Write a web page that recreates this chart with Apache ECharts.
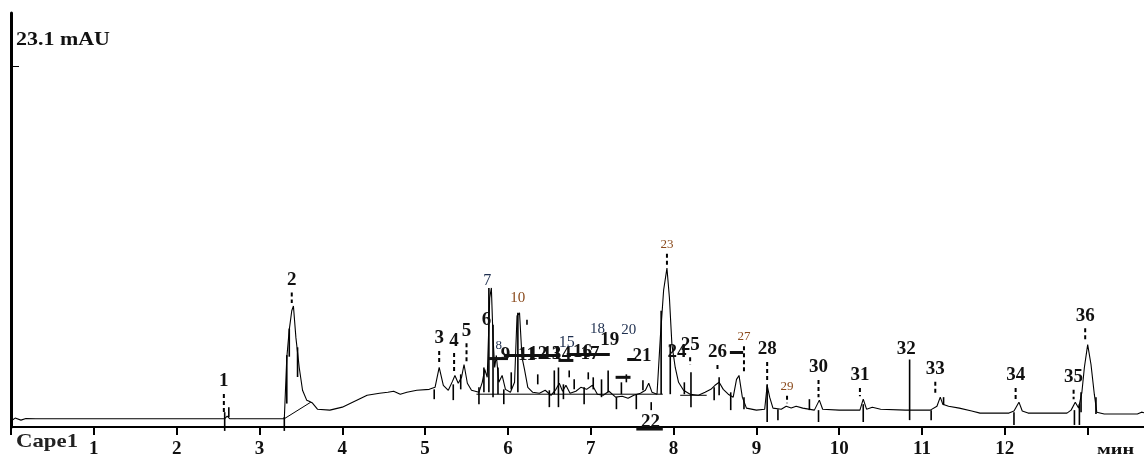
<!DOCTYPE html>
<html>
<head>
<meta charset="utf-8">
<script src="https://cdn.jsdelivr.net/npm/echarts@6/dist/echarts.min.js"></script>
<style>
  html, body { margin: 0; padding: 0; background: #fff; }
  #chart { width: 1144px; height: 459px; }
</style>
</head>
<body>
<div id="chart"></div>
<script>
// chromatogram trace, minutes / mAU
const traceTime = [0.00, 0.05, 0.12, 0.18, 0.30, 0.84, 0.86, 0.88, 2.58, 2.61, 2.64, 3.30, 3.33, 3.36, 3.39, 3.41, 3.44, 3.48, 3.52, 3.57,
  3.60, 3.64, 3.70, 3.85, 4.00, 4.15, 4.30, 4.45, 4.55, 4.62, 4.70, 4.78, 4.90, 5.05, 5.12, 5.17, 5.22, 5.28, 5.33, 5.36,
  5.40, 5.44, 5.47, 5.51, 5.56, 5.65, 5.69, 5.72, 5.75, 5.78, 5.80, 5.82, 5.84, 5.86, 5.89, 5.93, 5.97, 6.03, 6.08, 6.11,
  6.14, 6.17, 6.20, 6.24, 6.30, 6.38, 6.45, 6.52, 6.58, 6.62, 6.66, 6.70, 6.75, 6.82, 6.88, 6.95, 7.02, 7.08, 7.15, 7.22,
  7.30, 7.38, 7.45, 7.52, 7.60, 7.66, 7.70, 7.74, 7.80, 7.84, 7.88, 7.92, 7.95, 7.98, 8.02, 8.06, 8.12, 8.20, 8.30, 8.38,
  8.45, 8.50, 8.55, 8.60, 8.66, 8.72, 8.76, 8.79, 8.83, 8.88, 9.00, 9.10, 9.13, 9.16, 9.20, 9.30, 9.36, 9.42, 9.48, 9.56,
  9.70, 9.76, 9.80, 10.00, 10.25, 10.29, 10.33, 10.40, 10.50, 10.80, 11.10, 11.18, 11.22, 11.25, 11.32, 11.45, 11.60, 11.70, 12.05, 12.11,
  12.17, 12.21, 12.28, 12.75, 12.80, 12.85, 12.89, 12.93, 12.96, 13.00, 13.04, 13.08, 13.11, 13.20, 13.60, 13.65, 13.70];
const traceSignal = [0.38, 0.57, 0.44, 0.54, 0.53, 0.53, 0.62, 0.53, 0.53, 0.70, 0.53, 0.53, 4.45, 6.23, 7.44, 7.75, 5.72, 3.81, 2.35, 1.72,
  1.65, 1.53, 1.14, 1.08, 1.27, 1.65, 2.03, 2.16, 2.22, 2.29, 2.10, 2.22, 2.35, 2.41, 2.54, 3.81, 2.67, 2.35, 2.92, 3.30,
  2.80, 3.18, 4.00, 2.80, 2.35, 2.22, 2.86, 3.69, 3.18, 8.26, 8.90, 5.72, 3.81, 4.58, 2.86, 3.30, 2.41, 2.22, 2.86, 7.12,
  7.31, 4.45, 3.69, 2.54, 2.22, 2.16, 2.35, 2.03, 2.41, 2.80, 2.29, 2.67, 2.16, 2.29, 2.54, 2.41, 2.67, 2.10, 2.03, 2.29,
  1.91, 1.97, 1.84, 2.03, 2.16, 2.35, 2.80, 2.22, 2.10, 5.72, 8.77, 10.17, 8.26, 5.27, 3.81, 2.86, 2.35, 2.10, 2.03, 2.22,
  2.41, 2.67, 2.86, 2.41, 2.10, 1.91, 3.05, 3.30, 1.91, 1.21, 1.08, 1.14, 2.67, 1.91, 1.21, 1.14, 1.33, 1.21, 1.33, 1.21,
  1.08, 1.72, 1.14, 1.08, 1.08, 1.78, 1.14, 1.27, 1.14, 1.08, 1.08, 1.33, 1.91, 1.46, 1.33, 1.21, 1.02, 0.89, 0.89, 1.02,
  1.59, 1.02, 0.89, 0.89, 1.08, 1.59, 1.21, 2.22, 3.81, 5.27, 4.00, 2.10, 0.95, 0.83, 0.83, 0.95, 0.89];

// peak annotations
const peakNo = [1, 2, 3, 4, 5, 6, 7, 8, 9, 10, 11, 12, 13, 14, 15, 16, 17, 18, 19, 20, 21, 22, 23, 24, 25, 26, 27, 28, 29, 30, 31, 32, 33, 34, 35, 36];
const peakTime = [2.57, 3.39, 5.17, 5.35, 5.50, 5.74, 5.75, 5.89, 5.97, 6.12, 6.23, 6.36, 6.53, 6.65, 6.71, 6.90, 6.99, 7.08, 7.23, 7.46,
  7.62, 7.72, 7.92, 8.04, 8.20, 8.53, 8.85, 9.13, 9.37, 9.75, 10.25, 10.81, 11.16, 12.13, 12.83, 12.97];
const peakApex = [0.76, 7.75, 3.81, 3.30, 4.00, null, null, null, null, null, null, null, null, null, null, null, null, null, null, null,
  null, null, 10.17, null, 3.81, 3.37, 3.30, 2.67, 1.33, 1.72, 1.78, null, 1.91, 1.59, 1.59, 5.27];

// integration marks: time, top, bottom (mAU)
const markTime = [2.58, 2.63, 3.30, 3.33, 3.36, 3.46, 5.11, 5.34, 5.43, 5.65, 5.71, 5.77, 5.82, 5.88, 5.95, 6.04, 6.12, 6.23, 6.36, 6.50,
  6.56, 6.61, 6.67, 6.74, 6.80, 6.92, 6.97, 7.03, 7.13, 7.21, 7.31, 7.37, 7.43, 7.55, 7.63, 7.73, 7.85, 7.96, 8.13, 8.21,
  8.49, 8.55, 8.69, 8.85, 9.13, 9.26, 9.64, 9.75, 10.29, 10.85, 11.11, 11.26, 12.11, 12.84, 12.90, 12.92, 13.10];
const markTop = [0.95, 1.27, 0.64, 4.60, 6.30, 5.10, 2.41, 2.73, 3.37, 2.54, 3.81, 8.90, 6.55, 3.81, 2.41, 3.50, 7.31, 6.86, 3.37, 2.35,
  3.62, 3.81, 2.73, 3.62, 3.05, 2.54, 3.50, 3.18, 3.05, 3.62, 1.91, 2.86, 3.37, 2.10, 2.99, 1.59, 7.44, 5.27, 2.86, 3.50,
  2.54, 3.18, 2.22, 1.91, 2.73, 1.14, 1.78, 1.08, 1.46, 4.32, 1.08, 1.91, 0.95, 1.08, 1.46, 2.22, 1.91];
const markBottom = [-0.25, 0.64, -0.25, 1.50, 4.50, 3.20, 1.78, 1.72, 2.41, 1.46, 2.22, 2.22, 1.91, 2.10, 1.46, 2.41, 2.22, 6.55, 2.73, 1.27,
  2.10, 1.27, 1.78, 3.18, 2.41, 1.46, 3.05, 2.41, 1.91, 2.22, 1.14, 2.10, 2.86, 1.14, 2.35, 1.08, 2.10, 2.10, 2.10, 1.27,
  1.72, 2.03, 1.08, 1.14, 0.32, 0.44, 1.08, 0.32, 0.32, 0.44, 0.44, 1.40, 0.13, 0.13, 0.13, 0.95, 0.83];

// baselines drawn by the integrator
const baseT1 = [3.30, 5.62, 8.08];
const baseV1 = [0.53, 2.10, 2.03];
const baseT2 = [3.62, 7.87, 8.40];
const baseV2 = [1.59, 2.10, 2.03];

// heavy leader bars under crowded labels
const barT1 = [6.61, 6.71, 7.44, 7.55, 5.77, 5.95, 7.30, 8.68];
const barT2 = [6.79, 7.23, 7.55, 7.87, 6.00, 6.60, 7.48, 8.84];
const barLevel = [4.26, 4.64, 4.32, -0.13, 4.38, 4.58, 3.18, 4.77];

// layout of the peak numbers (mAU level of the text centre)
const labelLevel = [2.92, 9.41, 5.66, 5.53, 6.16, 6.86, 9.34, 5.21, 4.58, 8.26, 4.58, 4.64, 4.64, 4.64, 5.40, 4.77, 4.64, 6.29, 5.59, 6.23,
  4.51, 0.32, 11.69, 4.77, 5.27, 4.77, 5.78, 4.96, 2.61, 3.81, 3.30, 4.96, 3.69, 3.30, 3.18, 7.12];

const SERIF = '"Liberation Serif", "DejaVu Serif", serif';
const smallOrange = { 10: 15, 23: 13, 27: 13, 29: 13 };
const smallBlue = { 7: 16, 8: 13, 18: 15, 20: 15, 15: 16 };

function labelFont(no) {
  if (smallOrange[no]) return { size: smallOrange[no], color: '#8a4a1c', weight: 'normal' };
  if (smallBlue[no]) return { size: smallBlue[no], color: '#1e2f4f', weight: 'normal' };
  return { size: 19, color: '#111', weight: 'bold' };
}

const chart = echarts.init(document.getElementById('chart'), null, { renderer: 'canvas' });

const traceData = traceTime.map((t, i) => [t, traceSignal[i]]);
const markData = markTime.map((t, i) => [t, markTop[i], markBottom[i]]);
const baseData = baseT1.map((t, i) => [t, baseV1[i], baseT2[i], baseV2[i]]);
const barData = barT1.map((t, i) => [t, barLevel[i], barT2[i]]);
const labelData = peakNo.map((n, i) => [peakTime[i], labelLevel[i], n, peakApex[i] == null ? '-' : peakApex[i]]);

chart.setOption({
  animation: false,
  backgroundColor: '#fff',
  grid: { left: 11, right: 0, top: 13, bottom: 29, containLabel: false },
  xAxis: {
    type: 'value',
    min: 0,
    max: 13.68,
    interval: 1,
    axisLine: { show: true, lineStyle: { color: '#000', width: 2 } },
    axisTick: { show: true, length: 8, lineStyle: { color: '#000', width: 2 } },
    axisLabel: {
      margin: 13,
      color: '#111',
      fontFamily: SERIF,
      fontWeight: 'bold',
      fontSize: 19,
      showMaxLabel: false,
      formatter: v => (v >= 1 && v <= 12 ? String(v) : '')
    },
    splitLine: { show: false }
  },
  yAxis: {
    type: 'value',
    min: 0,
    max: 26.5,
    axisLine: { show: true, lineStyle: { color: '#000', width: 3 } },
    axisTick: { show: true, inside: true, length: 8, customValues: [23.1], lineStyle: { color: '#000', width: 1 } },
    axisLabel: { show: false },
    splitLine: { show: false }
  },
  graphic: [
    { type: 'text', x: 16, y: 31, scaleX: 1.22,
      style: { text: '23.1 mAU', font: 'bold 18px ' + SERIF, fill: '#111', verticalAlign: 'top', textVerticalAlign: 'top' } },
    { type: 'text', x: 16, y: 433, scaleX: 1.2,
      style: { text: 'Cape1', font: 'bold 19px ' + SERIF, fill: '#222', verticalAlign: 'top', textVerticalAlign: 'top' } },
    { type: 'text', x: 1097, y: 443, scaleX: 1.35,
      style: { text: 'мин', font: 'bold 15px ' + SERIF, fill: '#111', verticalAlign: 'top', textVerticalAlign: 'top' } }
  ],
  series: [
    {
      type: 'line',
      name: 'trace',
      data: traceData,
      showSymbol: false,
      smooth: false,
      lineStyle: { color: '#000', width: 1.1 },
      z: 3
    },
    {
      type: 'custom',
      name: 'marks',
      data: markData,
      encode: { x: 0, y: [1, 2] },
      clip: false,
      renderItem: (params, api) => {
        const a = api.coord([api.value(0), api.value(1)]);
        const b = api.coord([api.value(0), api.value(2)]);
        return { type: 'line', shape: { x1: a[0], y1: a[1], x2: b[0], y2: b[1] }, style: { stroke: '#000', lineWidth: 1.6 } };
      },
      z: 4
    },
    {
      type: 'custom',
      name: 'baselines',
      data: baseData,
      encode: { x: [0, 2], y: [1, 3] },
      renderItem: (params, api) => {
        const a = api.coord([api.value(0), api.value(1)]);
        const b = api.coord([api.value(2), api.value(3)]);
        return { type: 'line', shape: { x1: a[0], y1: a[1], x2: b[0], y2: b[1] }, style: { stroke: '#000', lineWidth: 1 } };
      },
      z: 3
    },
    {
      type: 'custom',
      name: 'bars',
      data: barData,
      encode: { x: [0, 2], y: 1 },
      clip: false,
      renderItem: (params, api) => {
        const a = api.coord([api.value(0), api.value(1)]);
        const b = api.coord([api.value(2), api.value(1)]);
        return { type: 'line', shape: { x1: a[0], y1: a[1], x2: b[0], y2: b[1] }, style: { stroke: '#111', lineWidth: 3 } };
      },
      z: 4
    },
    {
      type: 'custom',
      name: 'labels',
      data: labelData,
      encode: { x: 0, y: 1 },
      clip: false,
      renderItem: (params, api) => {
        const no = api.value(2);
        const f = labelFont(no);
        const p = api.coord([api.value(0), api.value(1)]);
        const children = [{
          type: 'text',
          x: p[0], y: p[1],
          style: {
            text: String(no),
            font: f.weight + ' ' + f.size + 'px ' + SERIF,
            fill: f.color,
            align: 'center', verticalAlign: 'middle',
            textAlign: 'center', textVerticalAlign: 'middle'
          }
        }];
        const apex = api.value(3);
        if (!isNaN(apex)) {
          const q = api.coord([api.value(0), apex]);
          const y1 = p[1] + f.size / 2 + 3;
          const y2 = q[1] - 3;
          if (y2 > y1) {
            children.push({
              type: 'line',
              shape: { x1: p[0], y1: y1, x2: p[0], y2: y2 },
              style: { stroke: '#000', lineWidth: 2, lineDash: [4, 3] }
            });
          }
        }
        return { type: 'group', children: children };
      },
      z: 5
    }
  ]
});
</script>
</body>
</html>
